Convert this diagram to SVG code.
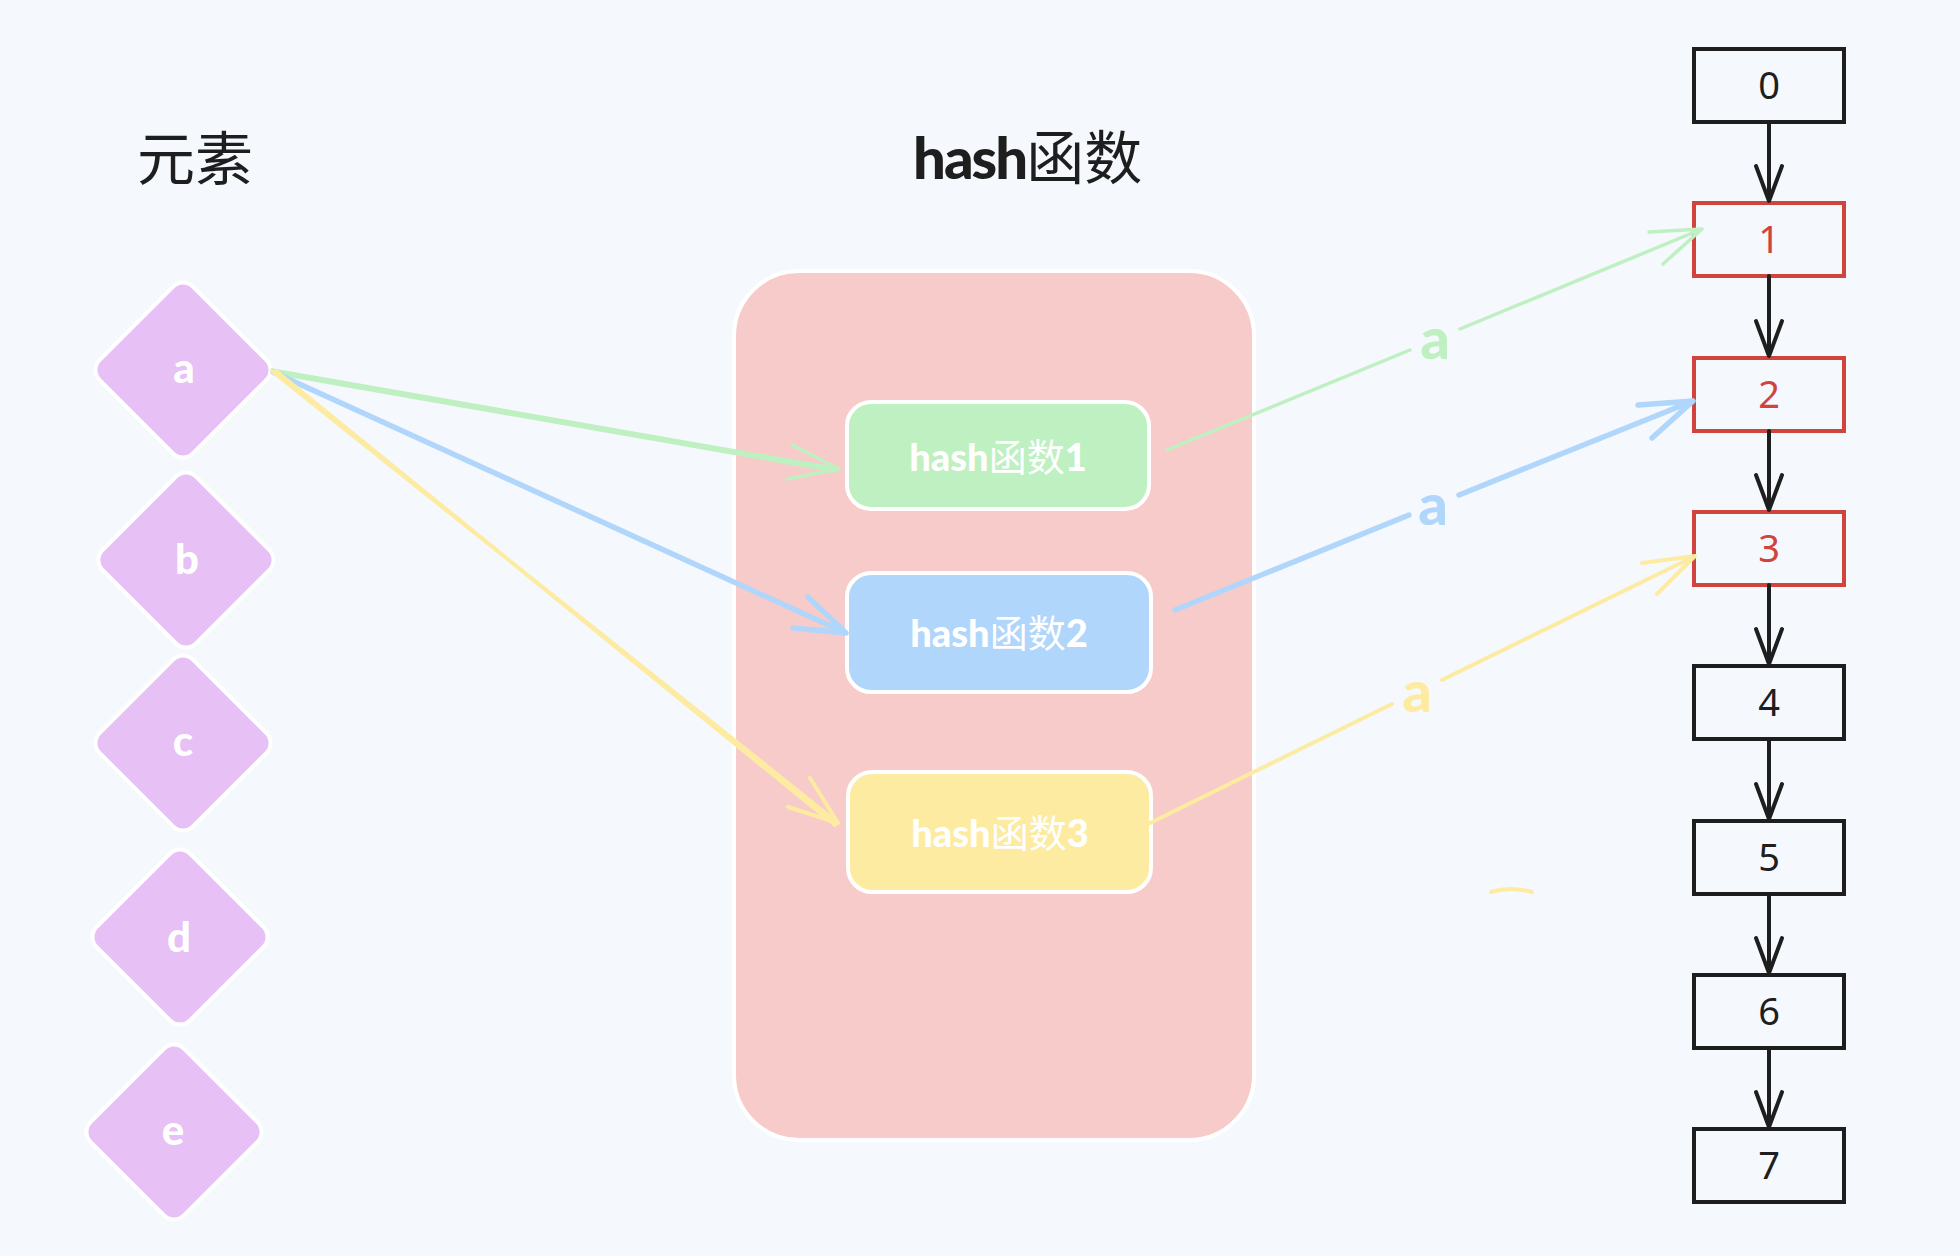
<svg xmlns="http://www.w3.org/2000/svg" width="1960" height="1256" viewBox="0 0 1960 1256">
<defs>
<style>
.bg{fill:#f5f8fd}
.title{font-family:"Noto Sans CJK SC","Noto Sans",sans-serif;font-size:58px;fill:#1e1e1e}
.bold{font-family:Lato,"Noto Sans",sans-serif;font-weight:900}
.cjk{font-family:"Noto Sans CJK SC",sans-serif;font-weight:400}
.dia{fill:#e7c0f5;stroke:#ffffff;stroke-width:4}
.dlabel{font-family:Lato,"Noto Sans",sans-serif;font-weight:900;font-size:42px;fill:#ffffff;text-anchor:middle}
.hbox{stroke:#ffffff;stroke-width:4}
.htext{font-size:38px;fill:#ffffff;text-anchor:middle}
.cell{fill:none;stroke:#1e1e1e;stroke-width:4}
.cell.red{stroke:#d0443d}
.digit{font-family:"Noto Sans","DejaVu Sans",sans-serif;font-size:38px;fill:#1e1e1e;text-anchor:middle}
.digit.red{fill:#d0443d}
.conn{fill:none;stroke-linecap:round;stroke-linejoin:round}
.blk{stroke:#1e1e1e;stroke-width:4}
.grn{stroke:#bff0c1;stroke-width:3.5}
.blu{stroke:#b1d6fb;stroke-width:5.5}
.ylw{stroke:#fdeba2;stroke-width:4}
.alabel{font-family:Lato,"Noto Sans",sans-serif;font-weight:900;font-size:58px;text-anchor:middle}
</style>
<rect id="diamondShape" x="-66" y="-66" width="132" height="132" rx="14"/>
</defs>
<rect class="bg" x="0" y="0" width="1960" height="1256"/>

<g id="title-elements"><text class="title" x="137" y="180">元素</text></g>
<g id="title-hash"><text class="title" x="913" y="179"><tspan class="bold" letter-spacing="-2">hash</tspan><tspan class="cjk">函数</tspan></text></g>

<g id="container">
<rect x="734" y="271" width="520" height="869" rx="65" fill="#f7cbc9" stroke="#ffffff" stroke-width="4"/>
</g>

<g id="diamond-a"><rect class="dia" x="-66" y="-66" width="132" height="132" rx="14" transform="translate(183 370) rotate(45)"/><text class="dlabel" x="184" y="383">a</text></g>
<g id="diamond-b"><rect class="dia" x="-66" y="-66" width="132" height="132" rx="14" transform="translate(186 560) rotate(45)"/><text class="dlabel" x="187" y="574">b</text></g>
<g id="diamond-c"><rect class="dia" x="-66" y="-66" width="132" height="132" rx="14" transform="translate(183 743) rotate(45)"/><text class="dlabel" x="183" y="756">c</text></g>
<g id="diamond-d"><rect class="dia" x="-66" y="-66" width="132" height="132" rx="14" transform="translate(180 937) rotate(45)"/><text class="dlabel" x="179" y="952">d</text></g>
<g id="diamond-e"><rect class="dia" x="-66" y="-66" width="132" height="132" rx="14" transform="translate(174 1132) rotate(45)"/><text class="dlabel" x="173" y="1145">e</text></g>

<g id="hash1"><rect class="hbox" x="847" y="402" width="302" height="107" rx="24" fill="#bff0c1"/><text class="htext" x="998" y="471"><tspan class="bold">hash</tspan><tspan class="cjk">函数</tspan><tspan class="bold">1</tspan></text></g>
<g id="hash2"><rect class="hbox" x="847" y="573" width="304" height="119" rx="24" fill="#b1d6fb"/><text class="htext" x="999" y="647"><tspan class="bold">hash</tspan><tspan class="cjk">函数</tspan><tspan class="bold">2</tspan></text></g>
<g id="hash3"><rect class="hbox" x="848" y="772" width="303" height="120" rx="24" fill="#fdeba2"/><text class="htext" x="1000" y="847"><tspan class="bold">hash</tspan><tspan class="cjk">函数</tspan><tspan class="bold">3</tspan></text></g>

<g id="cell-0"><rect class="cell" x="1694" y="49" width="150" height="73"/><text class="digit" x="1769" y="99">0</text></g>
<g id="cell-1"><rect class="cell red" x="1694" y="203" width="150" height="73"/><text class="digit red" x="1769" y="253">1</text></g>
<g id="cell-2"><rect class="cell red" x="1694" y="358" width="150" height="73"/><text class="digit red" x="1769" y="408">2</text></g>
<g id="cell-3"><rect class="cell red" x="1694" y="512" width="150" height="73"/><text class="digit red" x="1769" y="562">3</text></g>
<g id="cell-4"><rect class="cell" x="1694" y="666" width="150" height="73"/><text class="digit" x="1769" y="716">4</text></g>
<g id="cell-5"><rect class="cell" x="1694" y="821" width="150" height="73"/><text class="digit" x="1769" y="871">5</text></g>
<g id="cell-6"><rect class="cell" x="1694" y="975" width="150" height="73"/><text class="digit" x="1769" y="1025">6</text></g>
<g id="cell-7"><rect class="cell" x="1694" y="1129" width="150" height="73"/><text class="digit" x="1769" y="1179">7</text></g>

<g id="connectors">
<path class="conn blk" d="M1769 122 V201 M1756 166 L1769 201 L1782 166"/>
<path class="conn blk" d="M1769 276 V356 M1756 321 L1769 356 L1782 321"/>
<path class="conn blk" d="M1769 431 V510 M1756 475 L1769 510 L1782 475"/>
<path class="conn blk" d="M1769 585 V664 M1756 629 L1769 664 L1782 629"/>
<path class="conn blk" d="M1769 739 V819 M1756 784 L1769 819 L1782 784"/>
<path class="conn blk" d="M1769 894 V973 M1756 938 L1769 973 L1782 938"/>
<path class="conn blk" d="M1769 1048 V1127 M1756 1092 L1769 1127 L1782 1092"/>

<path class="conn grn" d="M272 370 L839 469 M275 373 L835 471 M792 445 L839 469 L787 479"/>
<path class="conn blu" d="M273 372 L846 633 M808 597 L846 633 L793 628"/>
<path class="conn ylw" d="M272 371 L838 823 M276 371 L835 825 M810 778 L838 823 L788 807"/>

<path class="conn grn" d="M1167 450 L1410 350 M1460 329 L1702 229 M1649 232 L1702 229 L1663 264"/>
<path class="conn blu" d="M1175 610 L1409 515 M1459 495 L1693 401 M1638 405 L1693 401 L1652 438"/>
<path class="conn ylw" d="M1150 823 L1392 704 M1442 680 L1695 556 M1642 563 L1695 556 L1657 594"/>
<text class="alabel" x="1435" y="359" fill="#bff0c1">a</text>
<text class="alabel" x="1433" y="525" fill="#b1d6fb">a</text>
<text class="alabel" x="1417" y="712" fill="#fdeba2">a</text>
</g>

<path id="stray-mark" class="conn ylw" d="M1491 892 Q1510 886 1532 892"/>
</svg>
